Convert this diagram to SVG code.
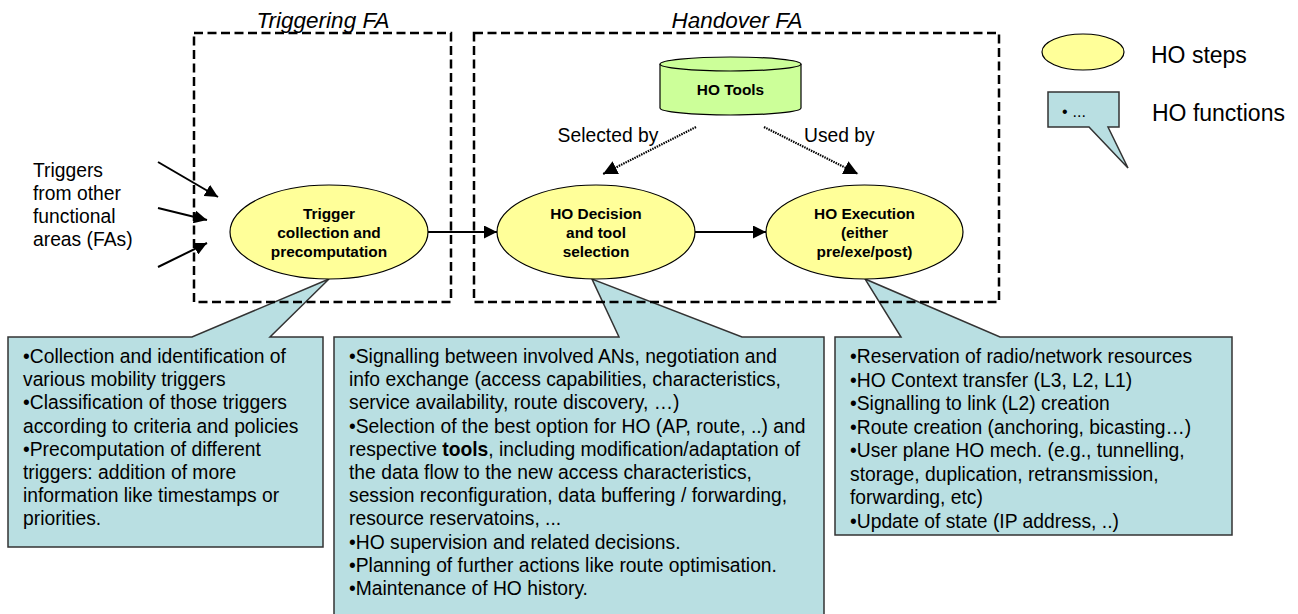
<svg xmlns="http://www.w3.org/2000/svg" width="1298" height="614" viewBox="0 0 1298 614">
<defs>
<style>
text{font-family:"Liberation Sans",Arial,sans-serif;fill:#000}
.fa{fill:none;stroke:#000;stroke-width:2.5;stroke-dasharray:9,4.5}
.title{font-size:22.5px;font-style:italic;text-anchor:middle}
.step{fill:#ffff99;stroke:#000;stroke-width:1.2}
.stxt{font-size:15.4px;font-weight:bold;text-anchor:middle}
.call{fill:#b9dfe2;stroke:#333;stroke-width:1.5;stroke-linejoin:miter}
.ctxt{font-size:19.3px}
.lbl{font-size:19.3px}
.leg{font-size:23px}
.conn{fill:none;stroke:#000;stroke-width:2}
.dot{fill:none;stroke:#000;stroke-width:2.2;stroke-dasharray:1.5,1}
</style>
<marker id="ah" viewBox="0 0 10 10" refX="10" refY="5" markerWidth="6.5" markerHeight="6.5" orient="auto" markerUnits="strokeWidth">
<path d="M0,0 L10,5 L0,10 Z" fill="#000"/>
</marker>
</defs>
<rect width="1298" height="614" fill="#fff"/>

<g id="callout-trigger">
<path class="call" d="M8,337 L192,337 L329,279 L270,337 L323,337 L323,547 L8,547 Z"/>
<text class="ctxt" x="23" y="363">•Collection and identification of</text>
<text class="ctxt" x="23" y="386.2">various mobility triggers</text>
<text class="ctxt" x="23" y="409.4">•Classification of those triggers</text>
<text class="ctxt" x="23" y="432.6">according to criteria and policies</text>
<text class="ctxt" x="23" y="455.8">•Precomputation of different</text>
<text class="ctxt" x="23" y="479">triggers: addition of more</text>
<text class="ctxt" x="23" y="502.2">information like timestamps or</text>
<text class="ctxt" x="23" y="525.4">priorities.</text>
</g>

<g id="callout-decision">
<path class="call" d="M334,337 L619,337 L592,279 L742,337 L824,337 L824,620 L334,620 Z"/>
<text class="ctxt" x="349" y="363">•Signalling between involved ANs, negotiation and</text>
<text class="ctxt" x="349" y="386.2">info exchange (access capabilities, characteristics,</text>
<text class="ctxt" x="349" y="409.4">service availability, route discovery, …)</text>
<text class="ctxt" x="349" y="432.6">•Selection of the best option for HO (AP, route, ..) and</text>
<text class="ctxt" x="349" y="455.8">respective <tspan font-weight="bold">tools</tspan>, including modification/adaptation of</text>
<text class="ctxt" x="349" y="479">the data flow to the new access characteristics,</text>
<text class="ctxt" x="349" y="502.2">session reconfiguration, data buffering / forwarding,</text>
<text class="ctxt" x="349" y="525.4">resource reservatoins, ...</text>
<text class="ctxt" x="349" y="548.6">•HO supervision and related decisions.</text>
<text class="ctxt" x="349" y="571.8">•Planning of further actions like route optimisation.</text>
<text class="ctxt" x="349" y="595">•Maintenance of HO history.</text>
</g>

<g id="callout-execution">
<path class="call" d="M835,337 L901,337 L865,279 L1000,337 L1232,337 L1232,535 L835,535 Z"/>
<text class="ctxt" x="850" y="363">•Reservation of radio/network resources</text>
<text class="ctxt" x="850" y="386.5">•HO Context transfer (L3, L2, L1)</text>
<text class="ctxt" x="850" y="410">•Signalling to link (L2) creation</text>
<text class="ctxt" x="850" y="433.5">•Route creation (anchoring, bicasting…)</text>
<text class="ctxt" x="850" y="457">•User plane HO mech. (e.g., tunnelling,</text>
<text class="ctxt" x="850" y="480.5">storage, duplication, retransmission,</text>
<text class="ctxt" x="850" y="504">forwarding, etc)</text>
<text class="ctxt" x="850" y="527.5">•Update of state (IP address, ..)</text>
</g>

<g id="triggering-fa">
<rect class="fa" x="194" y="33" width="257" height="269"/>
<text class="title" x="323" y="28">Triggering FA</text>
</g>

<g id="handover-fa">
<rect class="fa" x="474" y="33" width="525" height="269"/>
<text class="title" x="737" y="28">Handover FA</text>
</g>

<g id="triggers-label">
<text class="lbl" x="33" y="177">Triggers</text>
<text class="lbl" x="33" y="200">from other</text>
<text class="lbl" x="33" y="223">functional</text>
<text class="lbl" x="33" y="246">areas (FAs)</text>
</g>

<g id="connectors">
<line class="conn" x1="158" y1="162" x2="218" y2="197" marker-end="url(#ah)"/>
<line class="conn" x1="158" y1="208" x2="207" y2="220" marker-end="url(#ah)"/>
<line class="conn" x1="158" y1="267" x2="207" y2="243" marker-end="url(#ah)"/>
<line class="conn" x1="428" y1="232" x2="497" y2="232" marker-end="url(#ah)"/>
<line class="conn" x1="695" y1="232" x2="766" y2="232" marker-end="url(#ah)"/>
<line class="dot" x1="696" y1="127" x2="603" y2="174" marker-end="url(#ah)"/>
<line class="dot" x1="764" y1="127" x2="858" y2="174" marker-end="url(#ah)"/>
<text class="lbl" x="608" y="142" text-anchor="middle">Selected by</text>
<text class="lbl" x="804" y="142">Used by</text>
</g>

<g id="ho-tools">
<path d="M660,64 L660,108 A70.5,7 0 0 0 801,108 L801,64" fill="#ccff99" stroke="#000" stroke-width="1.2"/>
<ellipse cx="730.5" cy="64" rx="70.5" ry="7" fill="#ccff99" stroke="#000" stroke-width="1.2"/>
<text class="stxt" x="730.5" y="95">HO Tools</text>
</g>

<g id="step-trigger">
<ellipse class="step" cx="329" cy="232" rx="99" ry="47"/>
<text class="stxt" x="329" y="219">Trigger</text>
<text class="stxt" x="329" y="238">collection and</text>
<text class="stxt" x="329" y="257">precomputation</text>
</g>

<g id="step-decision">
<ellipse class="step" cx="596" cy="232" rx="99" ry="47"/>
<text class="stxt" x="596" y="219">HO Decision</text>
<text class="stxt" x="596" y="238">and tool</text>
<text class="stxt" x="596" y="257">selection</text>
</g>

<g id="step-execution">
<ellipse class="step" cx="864.5" cy="232" rx="98.5" ry="47"/>
<text class="stxt" x="864.5" y="219">HO Execution</text>
<text class="stxt" x="864.5" y="238">(either</text>
<text class="stxt" x="864.5" y="257">pre/exe/post)</text>
</g>

<g id="legend-steps">
<ellipse class="step" cx="1083" cy="52" rx="41" ry="18"/>
<text class="leg" x="1151" y="63">HO steps</text>
</g>

<g id="legend-functions">
<path class="call" d="M1048,92 L1119,92 L1119,127 L1108,127 L1128,168 L1089,127 L1048,127 Z"/>
<text x="1062" y="117" font-size="16">•<tspan dx="5">...</tspan></text>
<text class="leg" x="1152" y="121">HO functions</text>
</g>
</svg>
